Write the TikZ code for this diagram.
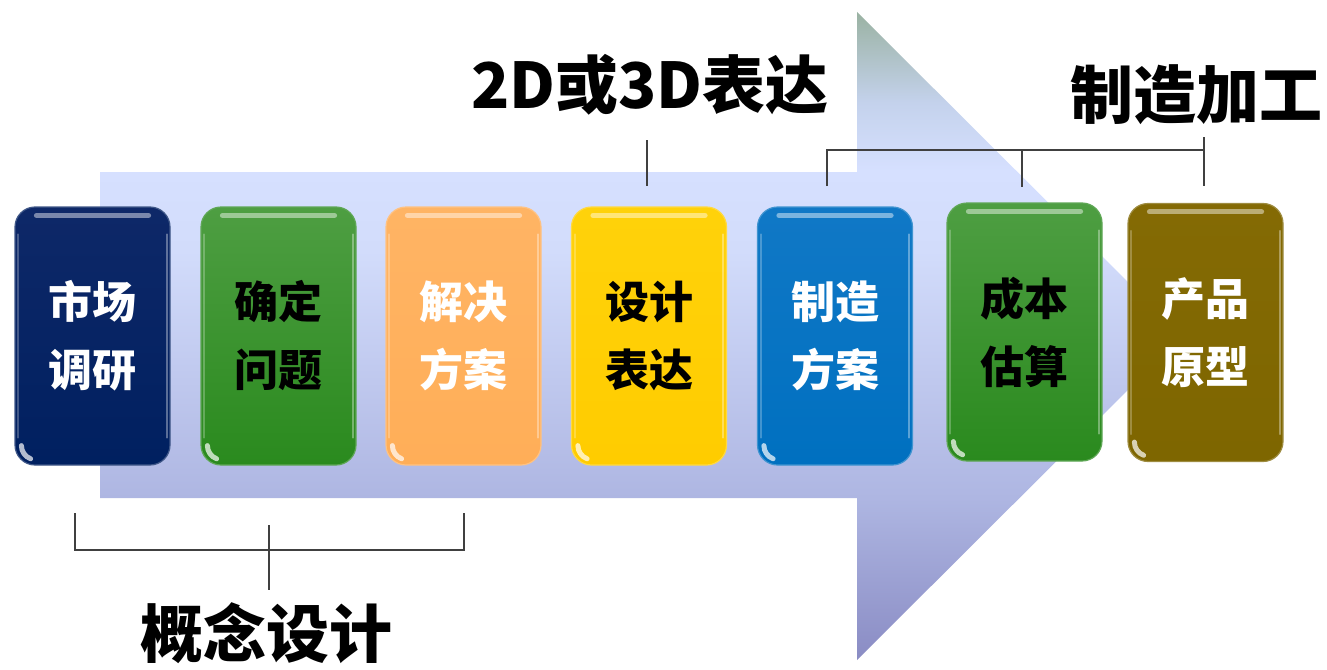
\documentclass[tikz,border=0pt]{standalone}
\usepackage{fontspec}
\newfontfamily\cjk{Noto Sans CJK SC}
\usetikzlibrary{calc}
\definecolor{a1}{HTML}{8A8CC4}
\definecolor{a2}{HTML}{AEB6E2}
\definecolor{a3}{HTML}{D2DCFB}
\definecolor{a4}{HTML}{D6E0FF}
\definecolor{a5}{HTML}{C4D2EC}
\definecolor{a6}{HTML}{9AB2A2}
\definecolor{linec}{HTML}{404040}
\definecolor{navyT}{HTML}{0E2868}\definecolor{navyB}{HTML}{002060}
\definecolor{grnT}{HTML}{4E9E42}\definecolor{grnB}{HTML}{2A8A1E}
\definecolor{orgT}{HTML}{FFB464}\definecolor{orgB}{HTML}{FFAE58}
\definecolor{ylwT}{HTML}{FFD20A}\definecolor{ylwB}{HTML}{FFCC00}
\definecolor{bluT}{HTML}{1078C6}\definecolor{bluB}{HTML}{0070C0}
\definecolor{olvT}{HTML}{846A04}\definecolor{olvB}{HTML}{7E6600}
\pgfdeclareverticalshading{arrowshade}{100bp}{color(0bp)=(a1); color(25bp)=(a1); color(37.5bp)=(a2); color(56.6bp)=(a3); color(62.7bp)=(a4); color(68bp)=(a5); color(75bp)=(a6); color(100bp)=(a6)}
\tikzset{
  stepbox/.style args={#1/#2/#3}{rounded corners=20pt, minimum width=155pt, minimum height=258pt,
    top color=#1, bottom color=#2, draw=#2!75!white, line width=1.2pt, text=#3,
    font=\cjk\bfseries\fontsize{44}{68}\selectfont, align=center, inner sep=0pt},
  biglabel/.style={font=\cjk\bfseries\fontsize{63}{70}\selectfont, text=black, inner sep=0pt},
  brk/.style={draw=linec, line width=1.8pt},
  gloss/.style={draw=white, opacity=0.45, line width=5pt, line cap=round}
}
\begin{document}
\begin{tikzpicture}[x=1pt,y=-1pt]
\useasboundingbox (0,0) rectangle (1327,669);
% big arrow
\shade[shading=arrowshade] (100,172) -- (857,172) -- (857,12) -- (1182,336) -- (857,660) -- (857,498) -- (100,498) -- cycle;
% boxes
\node[stepbox={navyT/navyB/white}] (s1) at (92.5,336) {市场\\调研};
\node[stepbox={grnT/grnB/black}] (s2) at (278.5,336) {确定\\问题};
\node[stepbox={orgT/orgB/white}] (s3) at (463.5,336) {解决\\方案};
\node[stepbox={ylwT/ylwB/black}] (s4) at (649,336) {设计\\表达};
\node[stepbox={bluT/bluB/white}] (s5) at (835,336) {制造\\方案};
\node[stepbox={grnT/grnB/black}] (s6) at (1024.5,332) {成本\\估算};
\node[stepbox={olvT/olvB/white}] (s7) at (1205.5,332.5) {产品\\原型};
\foreach \n in {s1,s2,s3,s4,s5,s6,s7}{
  \draw[gloss] ($(\n.north west)+(22,9)$) -- ($(\n.north east)+(-22,9)$);
  \draw[gloss,line width=2pt,opacity=0.35] ($(\n.north east)+(-4,28)$) -- ($(\n.south east)+(-4,-28)$);
  \draw[gloss,line width=2pt,opacity=0.25] ($(\n.north west)+(4,28)$) -- ($(\n.south west)+(4,-28)$);
  \draw[gloss,line width=5pt,opacity=0.7] ($(\n.south west)+(7,-20)$) arc[start angle=180,end angle=250,radius=14pt];
}
% labels
\node[biglabel] (l2d) at (650,85) {2D或3D表达};
\node[biglabel] (lzz) at (1196,95) {制造加工};
\node[biglabel] (lgn) at (266,633) {概念设计};
% bracket coordinates
\coordinate (t1) at (647,140); \coordinate (t2) at (647,186);
\coordinate (m1) at (827,186); \coordinate (m2) at (827,150);
\coordinate (m3) at (1204,150); \coordinate (m4) at (1204,186);
\coordinate (m5) at (1204,137);
\coordinate (m6) at (1022,150); \coordinate (m7) at (1022,187);
\coordinate (g1) at (75,513); \coordinate (g2) at (75,550);
\coordinate (g3) at (464,550); \coordinate (g4) at (464,513);
\coordinate (g5) at (269,525); \coordinate (g6) at (269,590);
\draw[brk] (t1) -- (t2);
\draw[brk] (m1) -- (m2) -- (m3) -- (m4);
\draw[brk] (m5) -- (m3);
\draw[brk] (m6) -- (m7);
\draw[brk] (g1) -- (g2) -- (g3) -- (g4);
\draw[brk] (g5) -- (g6);
\end{tikzpicture}
\end{document}
